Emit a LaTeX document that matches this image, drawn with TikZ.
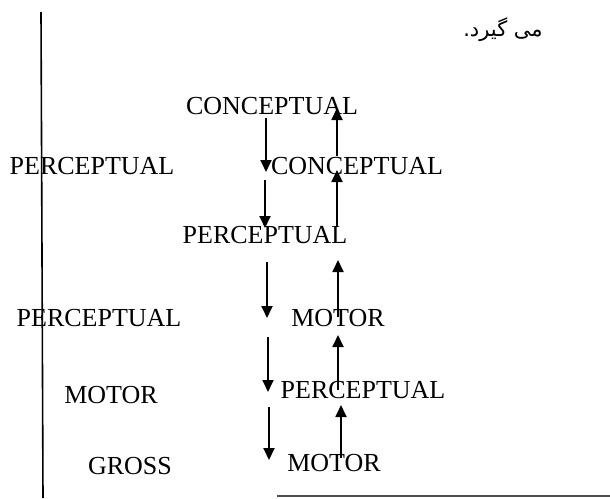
\documentclass[tikz,border=0pt]{standalone}
\usepackage{fontspec}
\setmainfont{Liberation Serif}
\newfontfamily\arabicfont[Script=Arabic]{DejaVu Sans}
\TeXXeTstate=1
\usetikzlibrary{arrows.meta}

\begin{document}
\begin{tikzpicture}[x=1pt,y=-1pt,
  lbl/.style={inner sep=0pt,font=\fontsize{26}{30}\selectfont},
  flow/.style={line width=1.8pt,-{Triangle[width=11pt,length=12pt]}}]
  \useasboundingbox (0,0) rectangle (610,498);
  % frame lines of the page
  \coordinate (vtop) at (41,12);
  \coordinate (vbot) at (43,498);
  \coordinate (hl) at (277,496);
  \coordinate (hr) at (610,496);
  \draw[line width=1.6pt] (vtop)--(vbot);
  \draw[black!70,line width=1.4pt] (hl)--(hr);
  \node[inner sep=0pt,font=\fontsize{21}{24}\selectfont] (fa) at (503,30) {\arabicfont\beginR می گیرد.\endR};

  % labels
  \node[lbl] (cTop) at (272,106) {CONCEPTUAL};
  \node[lbl] (pLeftA) at (92,166) {PERCEPTUAL};
  \node[lbl] (cMid) at (357,166) {CONCEPTUAL};
  \node[lbl] (pMid) at (265,235) {PERCEPTUAL};
  \node[lbl] (pLeftB) at (99,318) {PERCEPTUAL};
  \node[lbl] (mMid) at (338,318) {MOTOR};
  \node[lbl] (mLeft) at (111,395) {MOTOR};
  \node[lbl] (pRight) at (363,390) {PERCEPTUAL};
  \node[lbl] (gross) at (130,466) {GROSS};
  \node[lbl] (mBot) at (334,463) {MOTOR};

  % arrows down (left) and up (right)
  \foreach \n/\x/\a/\b in {1/266/118/172,2/265/180/228,3/267/262/318,4/268/337/392,5/269/407/460}{
    \coordinate (dnA\n) at (\x,\a);
    \coordinate (dnB\n) at (\x,\b);
    \draw[flow] (dnA\n)--(dnB\n);
  }
  \foreach \n/\x/\a/\b in {1/337/156/108,2/337/227/170,3/338/317/260,4/338/390/335,5/341/458/405}{
    \coordinate (upA\n) at (\x,\a);
    \coordinate (upB\n) at (\x,\b);
    \draw[flow] (upA\n)--(upB\n);
  }
\end{tikzpicture}
\end{document}
